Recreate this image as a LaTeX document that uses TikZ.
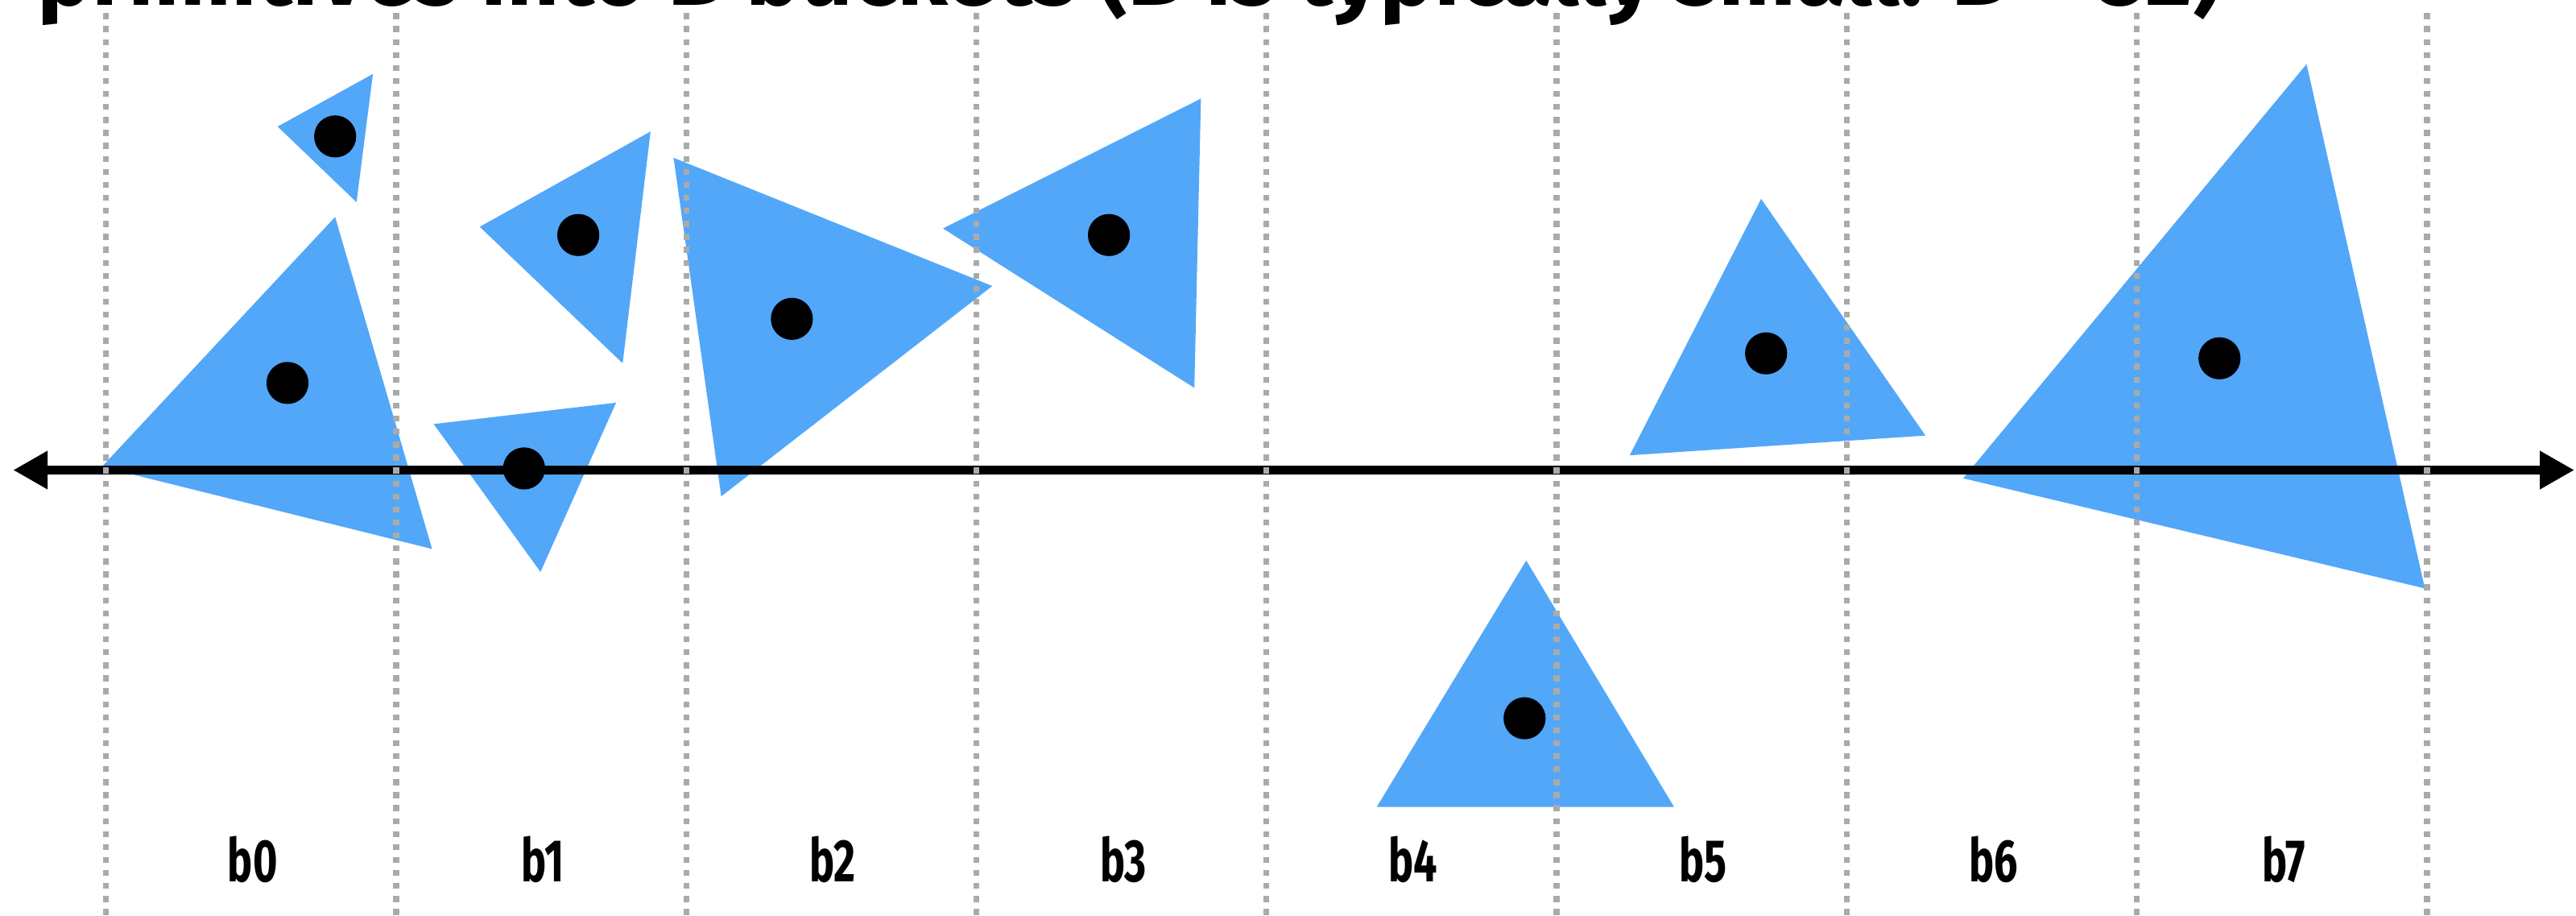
\documentclass[tikz,border=0pt]{standalone}
\usepackage{fontspec}
\setmainfont{Fira Sans}
\usepackage{graphicx}
\usetikzlibrary{arrows.meta}
\definecolor{triblue}{RGB}{82,167,249}
\definecolor{bucketgray}{RGB}{169,171,170}

\begin{document}
\begin{tikzpicture}[x=0.1mm,y=-0.1mm,
  tri/.style={fill=triblue},
  dot/.style={circle,fill=black,inner sep=0pt,minimum size=2.56mm},
  split/.style={draw=bucketgray,line width=0.36mm,dash pattern=on 0.36mm off 0.43mm},
  axis/.style={line width=0.52mm,{Triangle[length=2.1mm,width=2.2mm]}-{Triangle[length=2.1mm,width=2.2mm]}},
  bkt/.style={font=\fontsize{10.4}{12}\selectfont\bfseries,anchor=base,inner sep=0pt}]
\useasboundingbox (0,0) rectangle (1568,557);
\clip (0,0) rectangle (1568,557);
\node[anchor=base west,inner sep=0pt,font=\bfseries] (title) at (22,3) {\resizebox{133mm}{!}{primitives into B buckets (B is typically small: B < 32)}};
\foreach \ax/\ay/\bx/\by/\cx/\cy in {
169/77/227/45/217/123,62/284/204/132/263/334,
292/138/396/80/379/221,264/258/375/245/329/348,
410/96/604/174/439/302,574/139/731/60/727/236,
929/341/1019/491/838/491,1072/121/1172/265/992/277,
1404/39/1476/358/1195/291}{
\fill[tri] (\ax,\ay) -- (\bx,\by) -- (\cx,\cy) -- cycle;}
\coordinate (axl) at (8,286);
\coordinate (axr) at (1567,286);
\draw[axis] (axl) -- (axr);
\foreach \n/\x/\y in {1/204/83,2/175/233,3/352/143,4/319/285,5/482/194,
6/675/143,7/928/437,8/1075/215,9/1351/218}{
\node[dot] (c\n) at (\x,\y) {};}
\foreach \i in {0,...,8}{\draw[split] ({64.5+176.6*\i},8) -- ({64.5+176.6*\i},557);}
\foreach \i in {0,...,7}{\node[bkt] (b\i) at ({153.8+176.6*\i},536.5) {\scalebox{0.7}[1]{b\i}};}
\end{tikzpicture}
\end{document}
